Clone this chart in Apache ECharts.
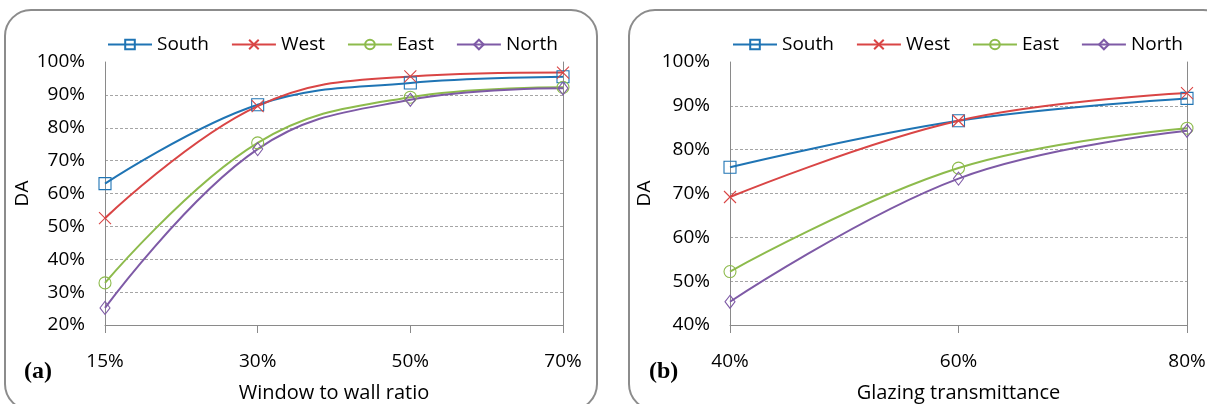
<!DOCTYPE html>
<html>
<head>
<meta charset="utf-8">
<script src="https://cdn.jsdelivr.net/npm/echarts@6/dist/echarts.min.js"></script>
<style>
  html, body { margin: 0; padding: 0; background: #fff; }
  #chart { width: 1207px; height: 404px; }
</style>
</head>
<body>
<div id="chart"></div>
<script>
// Panel (a): daylight autonomy vs window-to-wall ratio
const wwrCategories = ['15%', '30%', '50%', '70%'];
const wwrSouth = [63, 87, 93.6, 95.5];
const wwrWest  = [52.5, 86.6, 95.6, 96.8];
const wwrEast  = [32.8, 75.4, 89.3, 92.3];
const wwrNorth = [25.2, 73.5, 88.5, 92];

// Panel (b): daylight autonomy vs glazing transmittance
const gtCategories = ['40%', '60%', '80%'];
const gtSouth = [76, 86.6, 91.7];
const gtWest  = [69.2, 86.6, 92.9];
const gtEast  = [52.2, 75.8, 84.9];
const gtNorth = [45.3, 73.4, 84.3];

const seriesNames = ['South', 'West', 'East', 'North'];
const colors = { South: '#1f74b4', West: '#d94545', East: '#8dbb4c', North: '#7e5aa6' };
const symbols = {
  South: { symbol: 'rect', size: 12 },
  West: { symbol: 'path://M0,0L10,10M10,0L0,10', size: 12 },
  East: { symbol: 'circle', size: 12 },
  North: { symbol: 'diamond', size: [10, 13] }
};

const FONT = 'Open Sans';
const axisGray = '#8a8a8a';

function makeSeries(name, data, idx) {
  return {
    name: name,
    type: 'line',
    xAxisIndex: idx,
    yAxisIndex: idx * 2,
    data: data,
    smooth: 0.4,
    symbol: symbols[name].symbol,
    symbolSize: symbols[name].size,
    showSymbol: true,
    lineStyle: { color: colors[name], width: 2 },
    itemStyle: { color: 'rgba(0,0,0,0)', borderColor: colors[name], borderWidth: 1.1 },
    emphasis: { disabled: true },
    animation: false,
    z: 3
  };
}

function valueAxis(gridIndex, min, max, nameGap) {
  return {
    type: 'value', gridIndex: gridIndex, min: min, max: max, interval: 10,
    name: 'DA', nameLocation: 'middle', nameGap: nameGap,
    nameTextStyle: { fontFamily: FONT, fontSize: 19, color: '#000' },
    axisLine: { show: true, lineStyle: { color: axisGray, width: 1 } },
    axisTick: { show: false },
    axisLabel: { fontFamily: FONT, fontSize: 19, color: '#000', margin: 20,
                 formatter: v => v + '%' },
    splitLine: { show: true, showMinLine: false, showMaxLine: false,
                 lineStyle: { color: '#a5a5a5', type: [3, 2], width: 1 } }
  };
}

function rightAxis(gridIndex, min, max) {
  return {
    type: 'value', gridIndex: gridIndex, min: min, max: max, interval: 10,
    position: 'right',
    axisLine: { show: true, lineStyle: { color: axisGray, width: 1 } },
    axisTick: { show: false }, axisLabel: { show: false }, splitLine: { show: false }
  };
}

function categoryAxis(gridIndex, cats, title) {
  return {
    type: 'category', gridIndex: gridIndex, data: cats, boundaryGap: false,
    name: title, nameLocation: 'middle', nameGap: 58,
    nameTextStyle: { fontFamily: FONT, fontSize: 20, color: '#000' },
    axisLine: { show: true, onZero: false, lineStyle: { color: axisGray, width: 1 } },
    axisTick: { show: true, length: 8, lineStyle: { color: axisGray } },
    axisLabel: { fontFamily: FONT, fontSize: 19, color: '#000', margin: 27 },
    splitLine: { show: false }
  };
}

function legendAt(left) {
  return {
    data: seriesNames, left: left, top: 30, itemWidth: 44, itemHeight: 12, itemGap: 22,
    textStyle: { fontFamily: FONT, fontSize: 19, color: '#000' },
    selectedMode: false
  };
}

const option = {
  animation: false,
  backgroundColor: '#fff',
  grid: [
    { left: 105, right: 1207 - 563, top: 62, bottom: 404 - 325, outerBoundsMode: 'none', containLabel: false },
    { left: 730, right: 1207 - 1187, top: 62, bottom: 404 - 325, outerBoundsMode: 'none', containLabel: false }
  ],
  legend: [legendAt(102), legendAt(727)],
  xAxis: [
    categoryAxis(0, wwrCategories, 'Window to wall ratio'),
    categoryAxis(1, gtCategories, 'Glazing transmittance')
  ],
  yAxis: [
    valueAxis(0, 20, 100, 73), rightAxis(0, 20, 100),
    valueAxis(1, 40, 100, 76), rightAxis(1, 40, 100)
  ],
  graphic: [
    { type: 'rect', shape: { x: 5, y: 10, width: 592, height: 400, r: 26 },
      style: { fill: 'none', stroke: '#8c8c8c', lineWidth: 2 }, z: -1 },
    { type: 'rect', shape: { x: 629, y: 10, width: 600, height: 400, r: 26 },
      style: { fill: 'none', stroke: '#8c8c8c', lineWidth: 2 }, z: -1 },
    { type: 'text', left: 24, top: 360,
      style: { text: '(a)', font: 'bold 24px "Liberation Serif"', fill: '#000' } },
    { type: 'text', left: 649, top: 360,
      style: { text: '(b)', font: 'bold 24px "Liberation Serif"', fill: '#000' } }
  ],
  series: [
    makeSeries('South', wwrSouth, 0), makeSeries('West', wwrWest, 0),
    makeSeries('East', wwrEast, 0), makeSeries('North', wwrNorth, 0),
    makeSeries('South', gtSouth, 1), makeSeries('West', gtWest, 1),
    makeSeries('East', gtEast, 1), makeSeries('North', gtNorth, 1)
  ]
};

const chart = echarts.init(document.getElementById('chart'), null, { renderer: 'canvas' });
chart.setOption(option);
</script>
</body>
</html>
